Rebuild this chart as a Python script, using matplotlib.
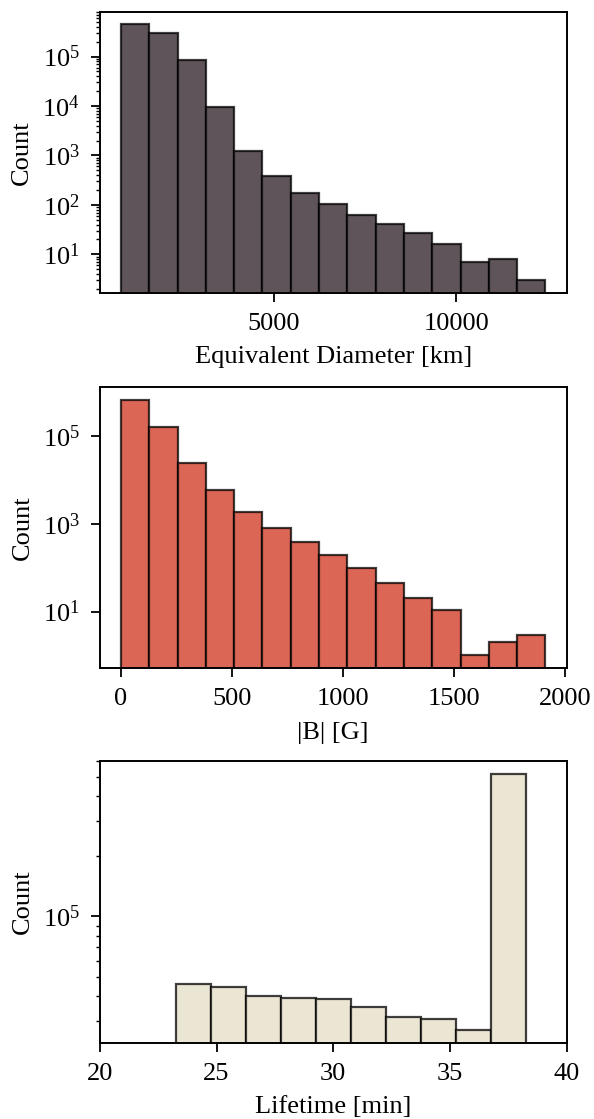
import numpy as np
import matplotlib
matplotlib.use('Agg')
import matplotlib.pyplot as plt
from matplotlib.ticker import NullFormatter

plt.rcParams['font.family'] = ['Liberation Serif', 'DejaVu Serif']
plt.rcParams['mathtext.fontset'] = 'stix'
plt.rcParams['font.size'] = 19

# equivalent diameter histogram (15 bins)
diam_edges = np.linspace(804, 12443, 16)
diam_counts = [450000, 305000, 86000, 9500, 1210, 380, 175, 102, 61, 42, 27, 16, 7, 8, 3]

# |B| histogram (15 bins)
b_edges = np.linspace(0, 1913, 16)
b_counts = [680000, 160000, 24300, 6000, 1830, 800, 379, 199, 99, 45, 20, 11, 1, 2, 3]

# lifetime histogram (10 bins)
life_edges = np.linspace(23.25, 38.25, 11)
life_counts = [45900, 44400, 39800, 38900, 38500, 35000, 31300, 30700, 27000, 518000]

colors = ['#5e545a', '#db6656', '#ebe5d3']
xlabels = ['Equivalent Diameter [km]', '|B| [G]', 'Lifetime [min]']


def draw_hist(ax, edges, counts, color, xlabel):
    counts = np.asarray(counts, dtype=float)
    ax.bar(edges[:-1], counts, width=np.diff(edges), align='edge',
           color=color, edgecolor=(0, 0, 0, 0.75), linewidth=1.6)
    ax.set_yscale('log')
    lo, hi = np.log10(counts.min()), np.log10(counts.max())
    pad = 0.05 * (hi - lo)
    ax.set_ylim(10 ** (lo - pad), 10 ** (hi + pad))
    ax.yaxis.set_minor_formatter(NullFormatter())
    ax.set_xlabel(xlabel, labelpad=8)
    ax.set_ylabel('Count', labelpad=6.5)
    ax.tick_params(which='major', length=6.5, width=1.3, pad=8)
    ax.tick_params(which='minor', length=3, width=1.0)
    for s in ax.spines.values():
        s.set_linewidth(1.4)


fig = plt.figure(figsize=(5.94, 11.19), dpi=100)
bottoms = [0.7382, 0.4028, 0.0682]
axes = [fig.add_axes([0.168, b, 0.786, 0.2515]) for b in bottoms]

draw_hist(axes[0], diam_edges, diam_counts, colors[0], xlabels[0])
axes[0].set_xticks([5000, 10000])

draw_hist(axes[1], b_edges, b_counts, colors[1], xlabels[1])
axes[1].set_xticks([0, 500, 1000, 1500, 2000])

draw_hist(axes[2], life_edges, life_counts, colors[2], xlabels[2])
axes[2].set_xlim(20, 40)
axes[2].set_xticks([20, 25, 30, 35, 40])

fig.savefig('out.png', dpi=100)
